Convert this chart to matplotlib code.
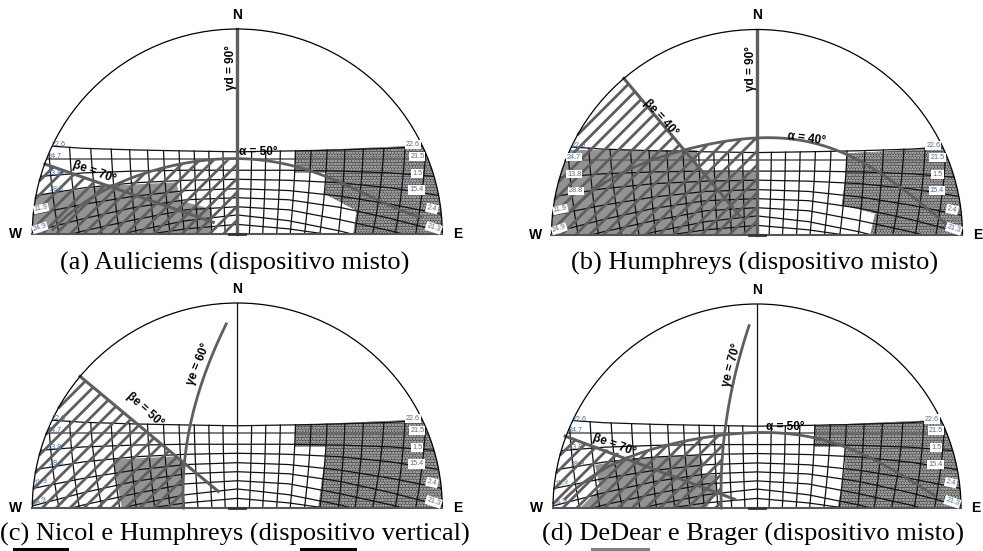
import numpy as np
import matplotlib
matplotlib.use("Agg")
import matplotlib.pyplot as plt
from matplotlib.patches import Polygon, Wedge, Arc, Rectangle

# all diagram values are in dome units: x = -1..1 (W..E), h = 0..1 (zenith)
curve_x = [0, 0.25, 0.5, 0.75, 1.0]
curve_A = [0.401, 0.405, 0.410, 0.418, 0.435]
curve_B = [0.367, 0.367, 0.367, 0.367, 0.367]
curve_C = [0.311, 0.311, 0.307, 0.298, 0.278]
curve_D = [0.267, 0.262, 0.250, 0.225, 0.185]
curve_E = [0.221, 0.212, 0.185, 0.145, 0.095]
curve_F = [0.177, 0.167, 0.130, 0.075, 0.010]
curve_G = [0.133, 0.118, 0.070, 0.015, -0.05]
curve_H = [0.093, 0.065, 0.015, -0.05, -0.10]
curve_I = [0.047, 0.025, -0.01, -0.06, -0.10]

merid_top = [0.07, 0.139, 0.21, 0.284, 0.36, 0.438, 0.525, 0.615, 0.715, 0.818, 0.92]
merid_bot = [0.059, 0.124, 0.192, 0.258, 0.328, 0.403, 0.493, 0.574, 0.66, 0.77, 0.87]

left_labels = ["22.6", "24.7", "13.8", "28.8", "11.9", "24.9"]
left_label_x = [-0.869, -0.89, -0.89, -0.88, -0.957, -0.963]
right_labels = ["22.6", "21.5", "1.5", "15.4", "2.4", "21.3"]
right_label_x = [0.858, 0.878, 0.878, 0.875, 0.95, 0.958]
label_h = [0.436, 0.379, 0.296, 0.215, 0.124, 0.03]
label_rot = [0, 0, 0, 0, 12, 18]

captions = ["(a) Auliciems (dispositivo misto)", "(b) Humphreys (dispositivo misto)",
            "(c) Nicol e Humphreys (dispositivo vertical)", "(d) DeDear e Brager (dispositivo misto)"]

# dark region on the east side
dark_a = [(0.281, 0.405), (0.281, 0.30), (0.436, 0.30), (0.428, 0.195), (0.582, 0.114), (0.566, 0), (1, 0), (1, 0.44), (0.86, 0.43)]
dark_b = [(0.433, 0.397), (0.433, 0.30), (0.413, 0.146), (0.575, 0.105), (0.551, 0), (1, 0), (1, 0.44), (0.86, 0.42)]
dark_c = [(0.281, 0.405), (0.281, 0.30), (0.436, 0.30), (0.412, 0.13), (0.395, 0), (1, 0), (1, 0.44), (0.86, 0.43)]
dark_d = [(0.281, 0.405), (0.281, 0.30), (0.432, 0.30), (0.432, 0.20), (0.395, 0), (1, 0), (1, 0.44), (0.86, 0.43)]

# grey region on the west side
grey_a = [(-1, 0.187), (-0.621, 0.236), (-0.296, 0.252), (-0.28, 0.163), (-0.125, 0.122), (-0.125, 0), (-1, 0)]
grey_b = [(-1, 0.413), (-0.292, 0.413), (-0.292, 0.308), (0, 0.308), (0, 0), (-1, 0)]
grey_c = [(-0.605, 0.236), (-0.30, 0.252), (-0.263, 0.22), (-0.263, 0), (-0.564, 0)]
grey_d = [(-0.794, 0.211), (-0.606, 0.243), (-0.288, 0.26), (-0.263, 0.227), (-0.271, 0.162), (-0.198, 0.162),
          (-0.198, 0.08), (-0.247, 0), (-0.868, 0), (-0.77, 0.096)]

alpha_a = [(-0.90, 0.016), (-0.83, 0.098), (-0.62, 0.22), (-0.42, 0.31), (-0.195, 0.358), (0, 0.361),
           (0.138, 0.358), (0.276, 0.34), (0.42, 0.285), (0.57, 0.21), (0.73, 0.155), (0.895, 0.08)]
alpha_b = [(-0.92, 0.105), (-0.66, 0.30), (-0.5, 0.365), (-0.35, 0.42), (-0.13, 0.462), (0, 0.469),
           (0.16, 0.462), (0.32, 0.442), (0.41, 0.40), (0.56, 0.332), (0.75, 0.186), (0.92, 0.057)]
alpha_d = [(-0.94, 0.046), (-0.8, 0.16), (-0.62, 0.25), (-0.35, 0.332), (-0.18, 0.36), (0, 0.363),
           (0.14, 0.36), (0.28, 0.352), (0.44, 0.30), (0.6, 0.218), (0.87, 0.062)]

beta_a = [(-0.938, 0.341), (-0.117, 0.057)]
beta_b = [(-0.648, 0.762), (-0.081, 0.089)]
beta_c = [(-0.767, 0.642), (-0.093, 0.081)]
beta_d = [(-0.94, 0.352), (-0.11, 0.043)]

gamma_c = [(-0.055, 0.898), (-0.117, 0.754), (-0.182, 0.585), (-0.231, 0.407), (-0.26, 0.163), (-0.263, 0)]
gamma_d = [(-0.039, 0.894), (-0.093, 0.709), (-0.142, 0.488), (-0.159, 0.357), (-0.175, 0.16), (-0.175, 0)]

# area covered by the diagonal hatching
hatch_a = [(-1.1, 0), (-1.1, 0.35), (-0.938, 0.341), (-0.62, 0.22), (-0.42, 0.31), (-0.195, 0.358), (0, 0.361), (0, 0)]
hatch_b = [(-1.1, 0), (-1.1, 0.8), (-0.648, 0.762), (-0.36, 0.42), (-0.13, 0.462), (0, 0.469), (0, 0)]
hatch_c = [(-1.1, 0), (-1.1, 0.7), (-0.767, 0.642), (-0.263, 0.22), (-0.263, 0)]
hatch_d = [(-1.1, 0), (-1.1, 0.36), (-0.94, 0.352), (-0.62, 0.25), (-0.35, 0.332), (-0.16, 0.36), (-0.175, 0.16), (-0.175, 0)]

GRID = "#111111"
THICK = "#5e5e5e"


def draw_grid(ax, clip):
    for curve in [curve_A, curve_C, curve_D, curve_E, curve_F, curve_G, curve_H, curve_I]:
        xs = list(-np.array(curve_x[:0:-1])) + curve_x
        hs = curve[:0:-1] + curve
        ln, = ax.plot(xs, hs, color=GRID, lw=0.9, zorder=3)
        ln.set_clip_path(clip)
    ln, = ax.plot([-1, 1], [curve_B[0], curve_B[0]], color="#666666", lw=1.2, zorder=3)
    ln.set_clip_path(clip)
    for top, bot in zip(merid_top, merid_bot):
        h_top = np.interp(top, curve_x, curve_A)
        hh = np.linspace(0, h_top, 12)
        coef = np.polyfit([0, 0.2, h_top], [bot, bot + (top - bot) * 0.62, top], 2)
        for side in (-1, 1):
            ln, = ax.plot(side * np.polyval(coef, hh), hh, color=GRID, lw=0.9, zorder=3)
            ln.set_clip_path(clip)


def draw_hatch(ax, poly):
    region = Polygon(poly, closed=True, facecolor="none", edgecolor="none", transform=ax.transData)
    ax.add_patch(region)
    for off in np.arange(-1.36, 1.0, 0.068):
        # stop each diagonal where it meets the dome
        root = np.sqrt(2 - off ** 2)
        low = max(0, (-off - root) / 2)
        high = (-off + root) / 2
        ln, = ax.plot([off + low, off + high], [low, high], color=THICK, lw=2.0, zorder=4, solid_capstyle="butt")
        ln.set_clip_path(region)


def smooth_x(points, deg=5):
    xs, hs = zip(*points)
    xx = np.linspace(xs[0], xs[-1], 80)
    return xx, np.polyval(np.polyfit(xs, hs, deg), xx)


def smooth_h(points, deg=3):
    xs, hs = zip(*points)
    hh = np.linspace(hs[0], hs[-1], 60)
    return np.polyval(np.polyfit(hs, xs, deg), hh), hh


def draw_panel(box, dark, grey, hatch, alpha, beta, gamma, texts, boxed_left):
    cx, base, radius = box
    ax = fig.add_axes([(cx - 1.15 * radius) / W, 1 - (base + 0.15 * radius) / H, 2.3 * radius / W, 1.25 * radius / H])
    ax.set_xlim(-1.15, 1.15)
    ax.set_ylim(-0.15, 1.10)
    ax.axis("off")

    clip = Wedge((0, 0), 1, 0, 180, facecolor="white", edgecolor="none", transform=ax.transData, zorder=0)
    ax.add_patch(clip)

    p = Polygon(dark, closed=True, facecolor="#505050", edgecolor="#9c9c9c", lw=0, hatch="oooooo", zorder=1)
    ax.add_patch(p)
    p.set_clip_path(clip)
    p = Polygon(grey, closed=True, facecolor="#939393", edgecolor="none", zorder=1)
    ax.add_patch(p)
    p.set_clip_path(clip)

    draw_grid(ax, clip)
    draw_hatch(ax, hatch)

    if alpha is not None:
        ax.plot(*smooth_x(alpha), color=THICK, lw=2.0, zorder=5)
    ax.plot(*zip(*beta), color=THICK, lw=2.2, zorder=5)
    if gamma is None:
        ax.plot([0, 0], [0, 1], color=THICK, lw=2.4, zorder=5)
    else:
        ax.plot([0, 0], [0, 1], color=GRID, lw=0.9, zorder=3)
        ax.plot(*smooth_h(gamma), color=THICK, lw=2.0, zorder=5)

    ax.add_patch(Arc((0, 0), 2, 2, theta1=0, theta2=180, color="black", lw=0.9, zorder=6))
    ax.plot([-1, 1], [0, 0], color="#555555", lw=1.5, zorder=6)
    ax.plot([-0.04, 0.04], [0, 0], color="#333333", lw=2, zorder=6)

    for name, x, y in [("N", 0, 1.07), ("W", -1.08, 0.0), ("E", 1.073, 0.0)]:
        ax.text(x, y, name, ha="center", va="center", fontsize=10, fontweight="bold", family="Liberation Sans")

    for i, (lab, x, y, rot) in enumerate(zip(left_labels, left_label_x, label_h, label_rot)):
        bg = dict(facecolor="white", edgecolor="none", pad=0.5) if i in boxed_left else None
        ax.text(x, y, lab, color="#4d6d99", fontsize=5.2, ha="center", va="center", rotation=rot, zorder=7,
                family="Liberation Sans", bbox=bg)
    for lab, x, y, rot in zip(right_labels, right_label_x, label_h, label_rot):
        ax.text(x, y, lab, color="#4d6d99", fontsize=5.2, ha="center", va="center", rotation=-rot, zorder=7,
                family="Liberation Sans", bbox=dict(facecolor="white", edgecolor="none", pad=0.8))

    for s, x, y, rot in texts:
        ax.text(x, y, s, ha="center", va="center", rotation=rot, fontsize=8.5, fontweight="bold", zorder=8,
                family="Liberation Sans", rotation_mode="anchor")


W, H = 983, 551
fig = plt.figure(figsize=(W / 100, H / 100), dpi=100)
plt.rcParams["hatch.linewidth"] = 0.7

draw_panel((237.3, 234, 205), dark_a, grey_a, hatch_a, alpha_a, beta_a, None,
           [("γd = 90°", -0.03, 0.81, 90), ("βe = 70°", -0.70, 0.30, -20), ("α = 50°", 0.10, 0.40, 0)], [4, 5])
draw_panel((757, 235, 205.5), dark_b, grey_b, hatch_b, alpha_b, beta_b, None,
           [("γd = 90°", -0.03, 0.81, 90), ("βe = 40°", -0.47, 0.57, -48), ("α = 40°", 0.24, 0.47, -8)],
           [1, 2, 3, 4, 5])
draw_panel((237.3, 508, 205), dark_c, grey_c, hatch_c, None, beta_c, gamma_c,
           [("γe = 60°", -0.19, 0.70, 68), ("βe = 50°", -0.45, 0.48, -42)], [])
draw_panel((757, 508, 204), dark_d, grey_d, hatch_d, alpha_d, beta_d, gamma_d,
           [("γe = 70°", -0.125, 0.70, 75), ("βe = 70°", -0.70, 0.31, -20), ("α = 50°", 0.14, 0.395, 0)], [])

for cap, x, y in zip(captions, [235, 755, 235, 753], [263, 263, 534, 534]):
    fig.text(x / W, 1 - y / H, cap, ha="center", va="center", fontsize=19, family="Liberation Serif")

for x0, x1, col in [(13, 69, "black"), (300, 357, "black"), (591, 650, "#808080")]:
    fig.add_artist(Rectangle((x0 / W, 0), (x1 - x0) / W, 3.5 / H, facecolor=col, edgecolor="none",
                             transform=fig.transFigure))

fig.savefig("out.png", dpi=100)
